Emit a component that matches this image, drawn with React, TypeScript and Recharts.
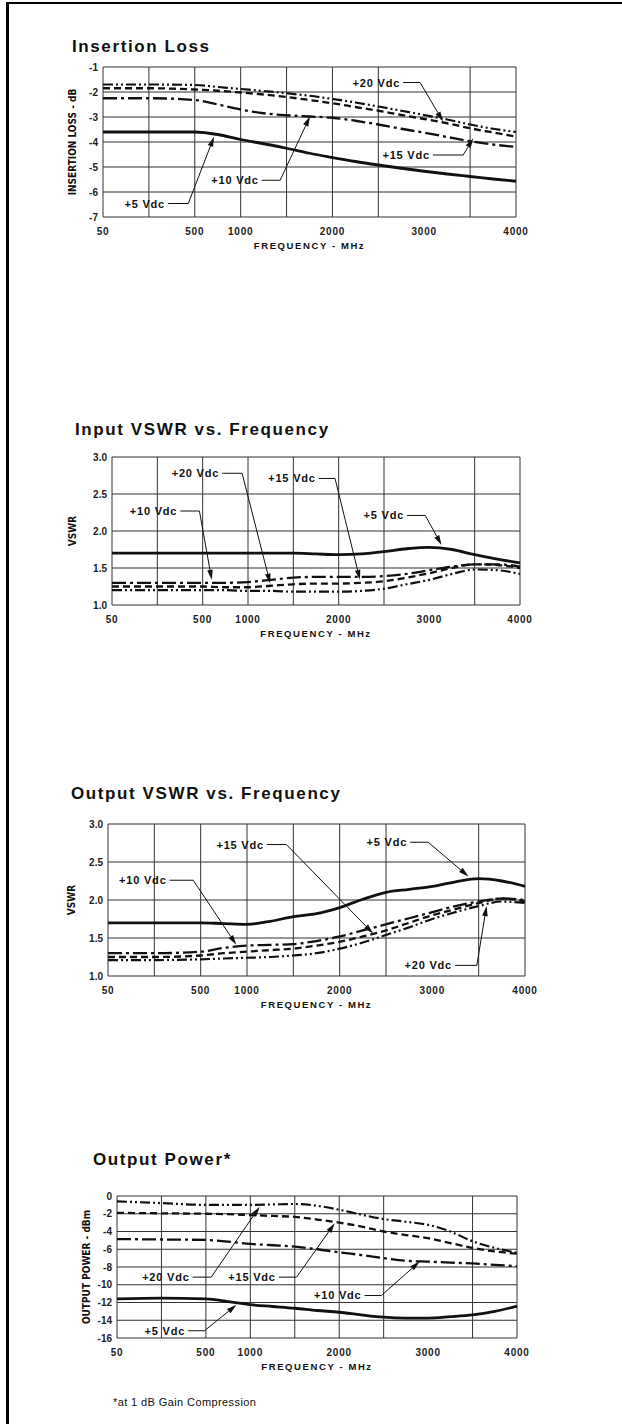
import React from 'react';
import {
  LineChart,
  Line,
  XAxis,
  YAxis,
  CartesianGrid,
  ReferenceLine,
  ReferenceDot,
} from 'recharts';

const FONT = "'Liberation Sans', Arial, Helvetica, sans-serif";
const NARROW = "'Liberation Sans Narrow', 'DejaVu Sans Condensed', Arial, sans-serif";

// frequency samples (MHz)
const freqMHz = [50, 275, 500, 750, 1000, 1250, 1500, 1750, 2000, 2250, 2500, 2750, 3000, 3250, 3500, 3750, 4000];
const freqTicks = [50, 500, 1000, 2000, 3000, 4000];
const gridFreqs = [50, 275, 500, 1000, 1500, 2000, 2500, 3500, 4000];

// Insertion Loss (dB)
const lossV20 = [-1.7, -1.7, -1.72, -1.8, -1.88, -1.96, -2.05, -2.15, -2.28, -2.42, -2.58, -2.75, -2.92, -3.1, -3.3, -3.47, -3.6];
const lossV15 = [-1.85, -1.85, -1.9, -1.95, -2.02, -2.1, -2.2, -2.32, -2.45, -2.6, -2.75, -2.92, -3.08, -3.25, -3.45, -3.62, -3.78];
const lossV10 = [-2.25, -2.25, -2.32, -2.5, -2.7, -2.85, -2.93, -2.98, -3.03, -3.15, -3.3, -3.47, -3.63, -3.8, -3.97, -4.1, -4.2];
const lossV5 = [-3.6, -3.6, -3.6, -3.7, -3.9, -4.07, -4.25, -4.45, -4.62, -4.78, -4.92, -5.05, -5.17, -5.28, -5.38, -5.48, -5.57];

// Input VSWR
const inV20 = [1.2, 1.2, 1.2, 1.2, 1.19, 1.19, 1.18, 1.18, 1.18, 1.19, 1.22, 1.28, 1.34, 1.42, 1.48, 1.47, 1.42];
const inV15 = [1.25, 1.25, 1.25, 1.24, 1.24, 1.26, 1.28, 1.29, 1.29, 1.3, 1.32, 1.37, 1.43, 1.5, 1.55, 1.54, 1.5];
const inV10 = [1.3, 1.3, 1.3, 1.3, 1.31, 1.34, 1.37, 1.38, 1.38, 1.38, 1.39, 1.42, 1.47, 1.52, 1.55, 1.55, 1.52];
const inV5 = [1.7, 1.7, 1.7, 1.7, 1.7, 1.7, 1.7, 1.69, 1.68, 1.69, 1.72, 1.76, 1.78, 1.75, 1.68, 1.62, 1.57];

// Output VSWR
const outV20 = [1.21, 1.21, 1.22, 1.23, 1.24, 1.25, 1.27, 1.3, 1.36, 1.44, 1.54, 1.64, 1.75, 1.84, 1.92, 1.98, 1.96];
const outV15 = [1.25, 1.25, 1.27, 1.3, 1.32, 1.34, 1.36, 1.4, 1.45, 1.52, 1.6, 1.7, 1.8, 1.88, 1.96, 2.02, 1.98];
const outV10 = [1.3, 1.3, 1.32, 1.37, 1.4, 1.41, 1.42, 1.46, 1.52, 1.6, 1.68, 1.76, 1.84, 1.92, 1.98, 2.02, 2.0];
const outV5 = [1.7, 1.7, 1.7, 1.69, 1.68, 1.72, 1.78, 1.82, 1.9, 2.01, 2.1, 2.14, 2.18, 2.24, 2.28, 2.25, 2.18];

// Output Power (dBm)
const powV20 = [-0.6, -0.8, -1.0, -1.0, -1.0, -0.95, -0.9, -1.1, -1.55, -2.1, -2.6, -2.9, -3.25, -4.0, -5.1, -5.85, -6.4];
const powV15 = [-1.9, -1.95, -2.0, -2.05, -2.15, -2.25, -2.35, -2.65, -3.0, -3.45, -4.0, -4.4, -4.75, -5.3, -5.85, -6.25, -6.5];
const powV10 = [-4.85, -4.9, -4.95, -5.15, -5.4, -5.55, -5.7, -6.0, -6.35, -6.65, -7.0, -7.3, -7.4, -7.5, -7.6, -7.75, -7.9];
const powV5 = [-11.6, -11.5, -11.6, -11.9, -12.25, -12.45, -12.65, -12.9, -13.1, -13.4, -13.65, -13.75, -13.75, -13.6, -13.4, -13.0, -12.4];

const lossTicks = [-7, -6, -5, -4, -3, -2, -1];
const lossTickLabels = ['-7', '-6', '-5', '-4', '-3', '-2', '-1'];
const vswrTicks = [1, 1.5, 2, 2.5, 3];
const vswrTickLabels = ['1.0', '1.5', '2.0', '2.5', '3.0'];
const powTicks = [-16, -14, -12, -10, -8, -6, -4, -2, 0];
const powTickLabels = ['-16', '-14', '-12', '-10', '-8', '-6', '-4', '-2', '0'];

type Callout = { text: string; f0: number; f1: number; v0: number; tipF: number; tipV: number };

const lossCallouts: Callout[] = [
  { text: '+20 Vdc', f0: 2770, f1: 2955, v0: -1.62, tipF: 3205, tipV: -3.18 },
  { text: '+15 Vdc', f0: 3095, f1: 3425, v0: -4.52, tipF: 3535, tipV: -3.85 },
  { text: '+10 Vdc', f0: 1230, f1: 1430, v0: -5.53, tipF: 1755, tipV: -2.98 },
  { text: '+5 Vdc', f0: 369, f1: 468, v0: -6.46, tipF: 710, tipV: -3.79 },
];
const inCallouts: Callout[] = [
  { text: '+20 Vdc', f0: 715, f1: 935, v0: 2.78, tipF: 1245, tipV: 1.29 },
  { text: '+15 Vdc', f0: 1780, f1: 1960, v0: 2.71, tipF: 2235, tipV: 1.34 },
  { text: '+10 Vdc', f0: 389, f1: 484, v0: 2.27, tipF: 600, tipV: 1.34 },
  { text: '+5 Vdc', f0: 2755, f1: 2955, v0: 2.21, tipF: 3135, tipV: 1.81 },
];
const outCallouts: Callout[] = [
  { text: '+15 Vdc', f0: 1215, f1: 1425, v0: 2.73, tipF: 2360, tipV: 1.56 },
  { text: '+5 Vdc', f0: 2760, f1: 2955, v0: 2.76, tipF: 3390, tipV: 2.31 },
  { text: '+10 Vdc', f0: 349, f1: 464, v0: 2.26, tipF: 885, tipV: 1.41 },
  { text: '+20 Vdc', f0: 3245, f1: 3480, v0: 1.14, tipF: 3585, tipV: 1.92 },
];
const powCallouts: Callout[] = [
  { text: '+20 Vdc', f0: 433, f1: 560, v0: -9.14, tipF: 1105, tipV: -1.2 },
  { text: '+15 Vdc', f0: 1320, f1: 1520, v0: -9.14, tipF: 1950, tipV: -3.07 },
  { text: '+10 Vdc', f0: 2285, f1: 2475, v0: -11.21, tipF: 2905, tipV: -7.39 },
  { text: '+5 Vdc', f0: 410, f1: 493, v0: -15.18, tipF: 845, tipV: -12.26 },
];

// the printed frequency axis is piecewise: 50-500 spans two divisions, then 500 MHz per division
function axisPos(f: number) {
  if (f <= 500) return ((f - 50) / 450) * 2;
  if (f <= 1000) return 2 + (f - 500) / 500;
  return 3 + (f - 1000) / 500;
}

const xTickPos = freqTicks.map(axisPos);
const gridPos = gridFreqs.map(axisPos);

const buildRows = (a20: number[], a15: number[], a10: number[], a5: number[]) =>
  freqMHz.map((f, i) => ({ pos: axisPos(f), v20: a20[i], v15: a15[i], v10: a10[i], v5: a5[i] }));

const lineStyles = [
  { key: 'v20', dash: '10 3 2 3 2 3', width: 2.2 },
  { key: 'v15', dash: '7 4', width: 2.3 },
  { key: 'v10', dash: '14 4 3 4', width: 2.3 },
  { key: 'v5', dash: undefined, width: 2.8 },
];

const INK = '#111';
const W = 622;
const YW = 40;
const XH = 30;
const PAD_T = 10;

const arrowShape = (p: any) => {
  const x1 = Number(p.x1), y1 = Number(p.y1), x2 = Number(p.x2), y2 = Number(p.y2);
  const a = Math.atan2(y2 - y1, x2 - x1);
  const L = 10, H = 2.8;
  const bx = x2 - L * Math.cos(a);
  const by = y2 - L * Math.sin(a);
  const px = -Math.sin(a) * H;
  const py = Math.cos(a) * H;
  return (
    <g>
      <line x1={x1} y1={y1} x2={bx} y2={by} stroke={INK} strokeWidth={1} />
      <polygon points={`${x2},${y2} ${bx + px},${by + py} ${bx - px},${by - py}`} fill={INK} />
    </g>
  );
};

const calloutText = (text: string) => (p: any) => (
  <text
    x={Number(p.cx) - 3}
    y={Number(p.cy)}
    textAnchor="end"
    dominantBaseline="central"
    fontFamily={FONT}
    fontWeight={700}
    fontSize={11}
    letterSpacing={0.8}
    fill={INK}
  >
    {text}
  </text>
);

type PanelProps = {
  plot: { left: number; top: number; right: number; bottom: number };
  rows: any[];
  yDomain: [number, number];
  yTicks: number[];
  yTickLabels: string[];
  yTitle: string;
  yTitleX: number;
  callouts: Callout[];
};

function Panel({ plot, rows, yDomain, yTicks, yTickLabels, yTitle, yTitleX, callouts }: PanelProps) {
  const h = plot.bottom - plot.top + PAD_T + XH;
  const tickStyle = { fontFamily: FONT, fontSize: 10, fontWeight: 700, fill: '#222' };
  return (
    <>
      <div style={{ position: 'absolute', left: 0, top: plot.top - PAD_T }}>
        <LineChart
          width={W}
          height={h}
          data={rows}
          margin={{ top: PAD_T, right: W - plot.right, bottom: 0, left: plot.left - YW }}
        >
          <CartesianGrid
            stroke="#333"
            strokeWidth={1}
            horizontalValues={yTicks}
            verticalValues={gridPos}
          />
          <XAxis
            dataKey="pos"
            type="number"
            domain={[0, 9]}
            ticks={xTickPos}
            interval={0}
            height={XH}
            axisLine={false}
            tickLine={false}
            tickSize={0}
            tickMargin={11}
            tick={{ ...tickStyle, letterSpacing: 0.8 }}
            tickFormatter={(p: number) => String(freqTicks[xTickPos.indexOf(p)] ?? '')}
          />
          <YAxis
            type="number"
            domain={yDomain}
            ticks={yTicks}
            interval={0}
            width={YW}
            axisLine={false}
            tickLine={false}
            tickSize={0}
            tickMargin={5}
            tick={tickStyle}
            tickFormatter={(v: number) => yTickLabels[yTicks.indexOf(v)] ?? ''}
          />
          {lineStyles.map((s) => (
            <Line
              key={s.key}
              dataKey={s.key}
              type="monotone"
              stroke={INK}
              strokeWidth={s.width}
              strokeDasharray={s.dash}
              dot={false}
              activeDot={false}
              isAnimationActive={false}
            />
          ))}
          {callouts.map((c, i) => (
            <ReferenceLine
              key={`h${i}`}
              segment={[{ x: axisPos(c.f0), y: c.v0 }, { x: axisPos(c.f1), y: c.v0 }]}
              stroke={INK}
              strokeWidth={1}
              ifOverflow="visible"
            />
          ))}
          {callouts.map((c, i) => (
            <ReferenceLine
              key={`a${i}`}
              segment={[{ x: axisPos(c.f1), y: c.v0 }, { x: axisPos(c.tipF), y: c.tipV }]}
              shape={arrowShape}
              ifOverflow="visible"
            />
          ))}
          {callouts.map((c, i) => (
            <ReferenceDot
              key={`t${i}`}
              x={axisPos(c.f0)}
              y={c.v0}
              r={1}
              ifOverflow="visible"
              shape={calloutText(c.text)}
            />
          ))}
        </LineChart>
      </div>
      <div
        style={{
          position: 'absolute',
          left: yTitleX,
          top: (plot.top + plot.bottom) / 2,
          transform: 'translate(-50%, -50%) rotate(-90deg)',
          whiteSpace: 'nowrap',
          fontFamily: NARROW,
          fontWeight: 700,
          fontSize: 10,
          lineHeight: '10px',
          color: '#111',
        }}
      >
        {yTitle}
      </div>
      <div
        style={{
          position: 'absolute',
          left: (plot.left + plot.right) / 2,
          top: plot.bottom + 29,
          transform: 'translate(-50%, -50%)',
          whiteSpace: 'nowrap',
          fontFamily: FONT,
          fontWeight: 700,
          fontSize: 9.5,
          letterSpacing: 1.6,
          lineHeight: '10px',
          color: '#111',
        }}
      >
        FREQUENCY - MHz
      </div>
    </>
  );
}

const titleStyle = (x: number, cy: number): React.CSSProperties => ({
  position: 'absolute',
  left: x,
  top: cy - 10,
  lineHeight: '20px',
  fontFamily: FONT,
  fontWeight: 700,
  fontSize: 17,
  letterSpacing: 1.6,
  color: '#111',
  whiteSpace: 'nowrap',
});

export default function App() {
  return (
    <div style={{ position: 'absolute', left: 0, top: 0, width: W, height: 1424, background: '#fff', overflow: 'hidden' }}>
      <div
        style={{
          position: 'absolute',
          left: 6,
          top: 2,
          width: 700,
          height: 1500,
          borderLeft: '3px solid #000',
          borderTop: '2.5px solid #000',
        }}
      />
      <div style={titleStyle(72, 47)}>Insertion Loss</div>
      <Panel
        plot={{ left: 103, top: 67, right: 516, bottom: 217 }}
        rows={buildRows(lossV20, lossV15, lossV10, lossV5)}
        yDomain={[-7, -1]}
        yTicks={lossTicks}
        yTickLabels={lossTickLabels}
        yTitle="INSERTION LOSS - dB"
        yTitleX={73}
        callouts={lossCallouts}
      />

      <div style={titleStyle(75, 430)}>Input VSWR vs. Frequency</div>
      <Panel
        plot={{ left: 112, top: 457, right: 520, bottom: 605 }}
        rows={buildRows(inV20, inV15, inV10, inV5)}
        yDomain={[1, 3]}
        yTicks={vswrTicks}
        yTickLabels={vswrTickLabels}
        yTitle="VSWR"
        yTitleX={73}
        callouts={inCallouts}
      />

      <div style={titleStyle(71, 794)}>Output VSWR vs. Frequency</div>
      <Panel
        plot={{ left: 108, top: 824, right: 525, bottom: 976 }}
        rows={buildRows(outV20, outV15, outV10, outV5)}
        yDomain={[1, 3]}
        yTicks={vswrTicks}
        yTickLabels={vswrTickLabels}
        yTitle="VSWR"
        yTitleX={72}
        callouts={outCallouts}
      />

      <div style={titleStyle(93, 1160)}>Output Power*</div>
      <Panel
        plot={{ left: 117, top: 1196, right: 517, bottom: 1338 }}
        rows={buildRows(powV20, powV15, powV10, powV5)}
        yDomain={[-16, 0]}
        yTicks={powTicks}
        yTickLabels={powTickLabels}
        yTitle="OUTPUT POWER - dBm"
        yTitleX={87}
        callouts={powCallouts}
      />

      <div
        style={{
          position: 'absolute',
          left: 113,
          top: 1395,
          lineHeight: '14px',
          fontFamily: FONT,
          fontSize: 11,
          fontWeight: 500,
          letterSpacing: 0.4,
          color: '#111',
          whiteSpace: 'nowrap',
        }}
      >
        *at 1 dB Gain Compression
      </div>
    </div>
  );
}
